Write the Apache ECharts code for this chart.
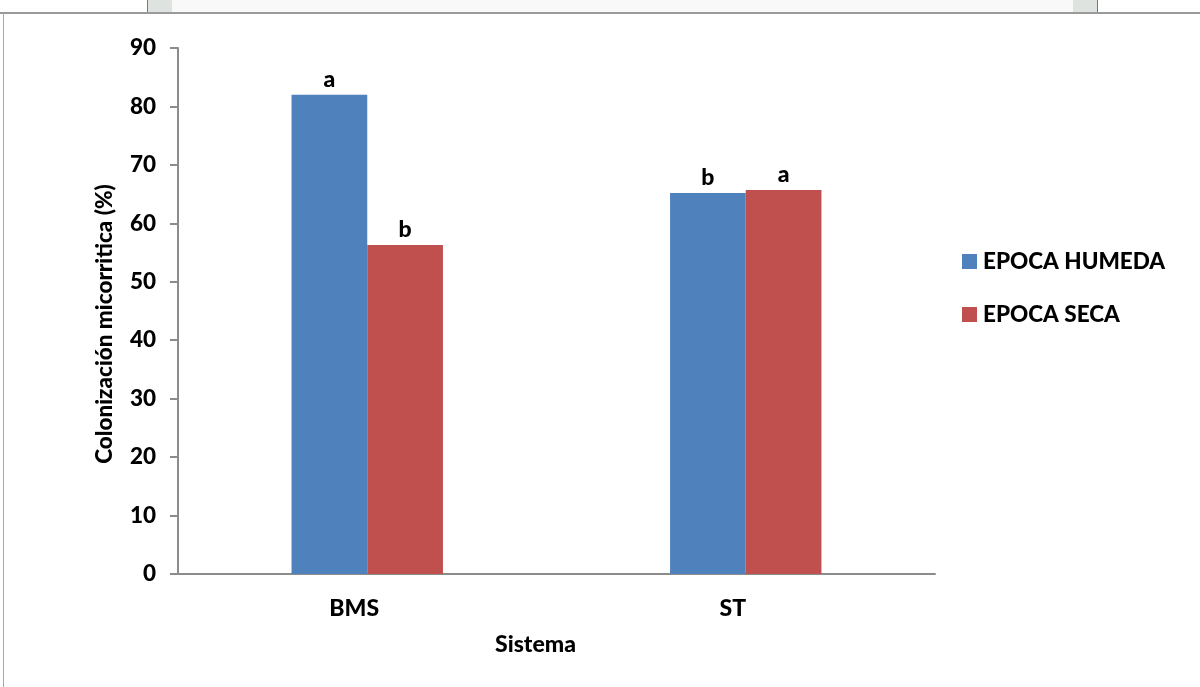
<!DOCTYPE html>
<html>
<head>
<meta charset="utf-8">
<script src="https://cdn.jsdelivr.net/npm/echarts@6/dist/echarts.min.js"></script>
<style>
  html, body { margin: 0; padding: 0; background: #fff; }
  #chart { width: 1200px; height: 687px; }
</style>
</head>
<body>
<div id="chart"></div>
<script>
// Sistemas evaluados
const categories = ['BMS', 'ST'];
// Colonización micorrítica (%) por época
const humeda = [82.0, 65.2];
const seca = [56.3, 65.7];
// Letras de comparación estadística
const letrasHumeda = ['a', 'b'];
const letrasSeca = ['b', 'a'];
const seriesNames = ['EPOCA HUMEDA', 'EPOCA SECA'];

const FONT = 'Lato, "DejaVu Sans Condensed", sans-serif';
const WEIGHT = 900;

const chart = echarts.init(document.getElementById('chart'), null, { renderer: 'canvas' });

function letterLabel(letters) {
  return {
    show: true,
    position: 'top',
    distance: 4,
    color: '#000',
    fontFamily: FONT,
    fontWeight: WEIGHT,
    fontSize: 23,
    formatter: p => letters[p.dataIndex]
  };
}

chart.setOption({
  animation: false,
  backgroundColor: '#fff',
  grid: { left: 178, right: 265, top: 48, bottom: 113, containLabel: false },
  legend: {
    orient: 'vertical',
    left: 957,
    top: 245,
    itemWidth: 15,
    itemHeight: 15,
    itemGap: 30,
    icon: 'rect',
    textStyle: { fontFamily: FONT, fontWeight: WEIGHT, fontSize: 22.5, color: '#000', padding: [0, 0, 0, 1] },
    data: seriesNames
  },
  xAxis: {
    type: 'category',
    data: categories,
    name: 'Sistema',
    nameLocation: 'middle',
    nameGap: 59,
    nameTextStyle: { fontFamily: FONT, fontWeight: WEIGHT, fontSize: 23, color: '#000', padding: [0, 42, 0, 0] },
    axisLine: { lineStyle: { color: '#8c8c8c', width: 2 } },
    axisTick: { show: false },
    axisLabel: { fontFamily: FONT, fontWeight: WEIGHT, fontSize: 23, color: '#000', margin: 23, padding: [0, 26, 0, 0] }
  },
  yAxis: {
    type: 'value',
    min: 0,
    max: 90,
    interval: 10,
    name: 'Colonización micorritica (%)',
    nameLocation: 'middle',
    nameGap: 62,
    nameTextStyle: { fontFamily: FONT, fontWeight: WEIGHT, fontSize: 22.5, color: '#000', padding: [0, 26, 0, 0] },
    axisLine: { show: true, lineStyle: { color: '#8c8c8c', width: 2 } },
    axisTick: { show: true, length: 8, lineStyle: { color: '#8c8c8c', width: 2 } },
    axisLabel: { fontFamily: FONT, fontWeight: WEIGHT, fontSize: 22.5, color: '#000', margin: 22 },
    splitLine: { show: false }
  },
  series: [
    {
      name: seriesNames[0],
      type: 'bar',
      data: humeda,
      barWidth: '20%',
      barGap: '0%',
      itemStyle: { color: '#4F81BD' },
      label: letterLabel(letrasHumeda)
    },
    {
      name: seriesNames[1],
      type: 'bar',
      data: seca,
      barWidth: '20%',
      barGap: '0%',
      itemStyle: { color: '#C0504D' },
      label: letterLabel(letrasSeca)
    }
  ],
  graphic: [
    // franja superior de la página
    { type: 'rect', shape: { x: 147, y: 0, width: 950, height: 12 }, style: { fill: '#f8f9f8' }, silent: true },
    { type: 'rect', shape: { x: 148, y: 0, width: 24, height: 12 }, style: { fill: '#dfe3df' }, silent: true },
    { type: 'rect', shape: { x: 1073, y: 0, width: 24, height: 12 }, style: { fill: '#dfe3df' }, silent: true },
    { type: 'line', shape: { x1: 147.5, y1: 0, x2: 147.5, y2: 12 }, style: { stroke: '#777', lineWidth: 1 }, silent: true },
    { type: 'line', shape: { x1: 1097.5, y1: 0, x2: 1097.5, y2: 12 }, style: { stroke: '#777', lineWidth: 1 }, silent: true },
    // marco del gráfico
    { type: 'line', shape: { x1: 0, y1: 13, x2: 1200, y2: 13 }, style: { stroke: '#9a9a9a', lineWidth: 2 }, silent: true },
    { type: 'line', shape: { x1: 3.5, y1: 13, x2: 3.5, y2: 687 }, style: { stroke: '#a8a8a8', lineWidth: 1 }, silent: true }
  ]
});
</script>
</body>
</html>
